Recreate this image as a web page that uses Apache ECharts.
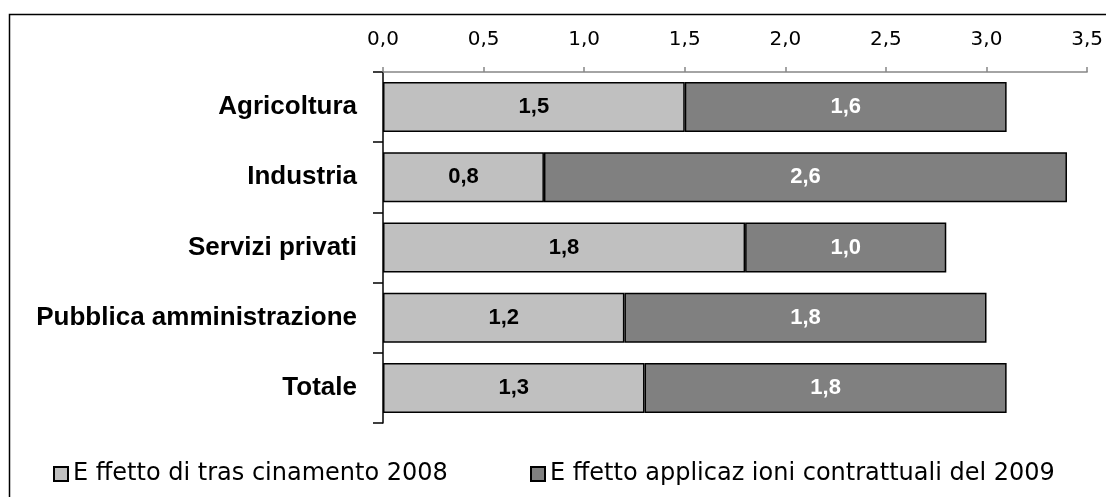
<!DOCTYPE html>
<html>
<head>
<meta charset="utf-8">
<script src="https://cdn.jsdelivr.net/npm/echarts@6/dist/echarts.min.js"></script>
<style>
  html, body { margin: 0; padding: 0; background: #fff; }
  #chart { width: 1106px; height: 497px; }
</style>
</head>
<body>
<div id="chart"></div>
<script>
// dati del grafico
const settori = ['Agricoltura', 'Industria', 'Servizi privati', 'Pubblica amministrazione', 'Totale'];
const trascinamento = [1.5, 0.8, 1.8, 1.2, 1.3];
const applicazioni = [1.6, 2.6, 1.0, 1.8, 1.8];
const nomiSerie = ['E ffetto di tras cinamento 2008', 'E ffetto applicaz ioni contrattuali del 2009'];

const virgola = v => v.toFixed(1).replace('.', ',');

const legendaBase = {
    top: 456,
    itemWidth: 14,
    itemHeight: 14,
    icon: 'rect',
    textStyle: { fontFamily: 'DejaVu Sans', fontSize: 24, lineHeight: 26, color: '#000' }
};

const etichettaBarra = colore => ({
    show: true,
    position: 'inside',
    fontFamily: 'Liberation Sans',
    fontWeight: 'bold',
    fontSize: 22,
    color: colore,
    formatter: p => virgola(p.value)
});

const chart = echarts.init(document.getElementById('chart'));
chart.setOption({
    animation: false,
    // cornice (solo lati sinistro e superiore visibili)
    graphic: [{
        type: 'rect',
        shape: { x: 9.5, y: 14.5, width: 1300, height: 700 },
        style: { fill: 'none', stroke: '#000', lineWidth: 1.5 }
    }],
    grid: { left: 383, right: 15, top: 72, bottom: 74 },
    legend: [
        Object.assign({ left: 48, data: [nomiSerie[0]] }, legendaBase),
        Object.assign({ left: 525, data: [nomiSerie[1]] }, legendaBase)
    ],
    xAxis: {
        type: 'value',
        position: 'top',
        min: 0,
        max: 3.5,
        interval: 0.5,
        axisLine: { show: true, lineStyle: { color: '#868686', width: 1.5 } },
        axisTick: { show: true, length: 5, lineStyle: { color: '#868686', width: 1.5 } },
        splitLine: { show: false },
        axisLabel: {
            margin: 22,
            fontFamily: 'DejaVu Sans',
            fontSize: 20,
            color: '#000',
            formatter: v => virgola(v)
        }
    },
    yAxis: {
        type: 'category',
        inverse: true,
        data: settori,
        axisLine: { show: true, lineStyle: { color: '#000', width: 1.5 } },
        axisTick: { show: true, length: 10, lineStyle: { color: '#000', width: 1.5 } },
        axisLabel: {
            margin: 26,
            fontFamily: 'Liberation Sans',
            fontWeight: 'bold',
            fontSize: 26,
            color: '#000'
        }
    },
    series: [
        {
            name: nomiSerie[0],
            type: 'bar',
            stack: 'tot',
            barWidth: 50,
            data: trascinamento,
            itemStyle: { color: '#c0c0c0', borderColor: '#000', borderWidth: 1.5 },
            label: etichettaBarra('#000')
        },
        {
            name: nomiSerie[1],
            type: 'bar',
            stack: 'tot',
            barWidth: 50,
            data: applicazioni,
            itemStyle: { color: '#808080', borderColor: '#000', borderWidth: 1.5 },
            label: etichettaBarra('#fff')
        }
    ]
});

window.addEventListener('resize', () => chart.resize());
</script>
</body>
</html>
